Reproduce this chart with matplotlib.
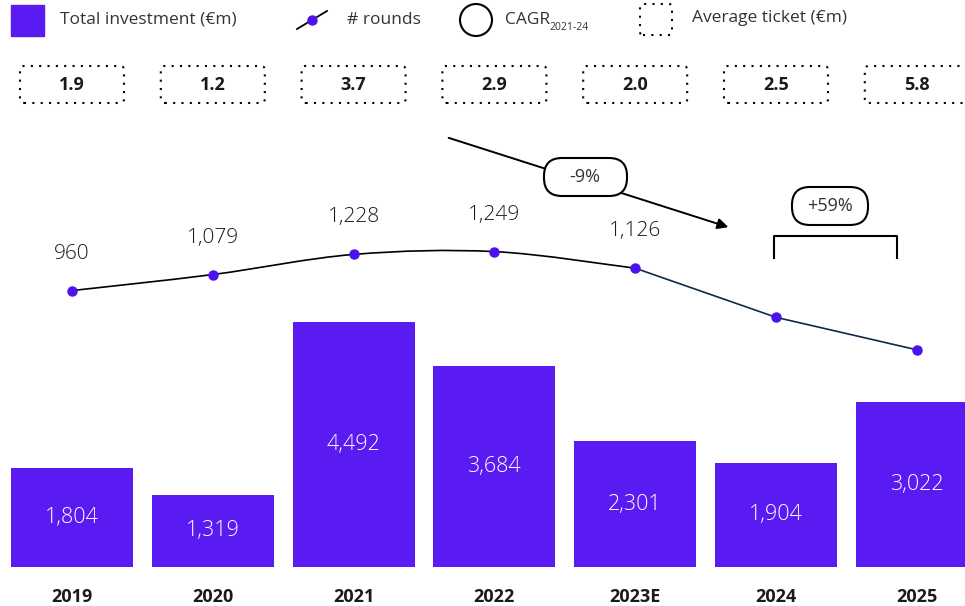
import matplotlib
matplotlib.use("Agg")
import matplotlib.pyplot as plt
from matplotlib.patches import FancyBboxPatch, Rectangle, Ellipse, FancyArrowPatch, PathPatch
from matplotlib.lines import Line2D
from matplotlib.path import Path
import matplotlib.transforms as mtrans
import numpy as np

# data
years = ["2019", "2020", "2021", "2022", "2023E", "2024", "2025"]
investment = [1804, 1319, 4492, 3684, 2301, 1904, 3022]          # Total investment (€m)
rounds = [960, 1079, 1228, 1249, 1126, 762, 521]                  # # rounds
round_labels = ["960", "1,079", "1,228", "1,249", "1,126", "", ""]
avg_ticket = [1.9, 1.2, 3.7, 2.9, 2.0, 2.5, 5.8]                  # Average ticket (€m)
cagr_label = "-9%"
growth_label = "+59%"

purple = "#5A1AF2"
dot_col = "#4B12EE"
navy = "#0E2A4A"
ink = "#1A1A1A"
plt.rcParams["font.family"] = ["Open Sans", "DejaVu Sans"]

W, H = 965, 606
fig = plt.figure(figsize=(W / 100, H / 100), dpi=100)
ax = fig.add_axes([0, 0, 1, 1])
ax.axis("off")

x = np.arange(len(years))
step = 140.8
x0 = 72
ax.set_xlim(-x0 / step, (W - x0) / step)
k = 18.3            # €m per pixel
base = H - 567      # baseline of the bars in pixels from the bottom
ax.set_ylim(-base * k, (H - base) * k)

ax.bar(x, investment, width=122 / step, color=purple, zorder=2)
for xi, v in zip(x, investment):
    ax.text(xi, v / 2, f"{v:,}", ha="center", va="center", color="white",
            fontsize=15.5, fontweight="light", zorder=3)

# year labels
ylab = mtrans.blended_transform_factory(ax.transData, ax.transAxes)
for xi, yr in zip(x, years):
    ax.text(xi, 1 - 597 / H, yr, transform=ylab, ha="center", va="center",
            fontsize=13, fontweight="bold", color=ink)

# rounds line on its own axis
ax2 = ax.twinx()
ax2.set_position([0, 0, 1, 1])
ax2.axis("off")
ax2.set_ylim(-1378, 3114)
ax2.set_xlim(ax.get_xlim())

# smooth part (2019 - 2023E) as bezier through the points
pts = np.column_stack([x[:5], rounds[:5]]).astype(float)
ext = np.vstack([pts[0], pts, pts[-1]])
verts = [tuple(pts[0])]
codes = [Path.MOVETO]
for i in range(1, len(ext) - 2):
    p0, p1, p2, p3 = ext[i - 1], ext[i], ext[i + 1], ext[i + 2]
    c1 = p1 + (p2 - p0) / 6
    c2 = p2 - (p3 - p1) / 6
    verts += [tuple(c1), tuple(c2), tuple(p2)]
    codes += [Path.CURVE4] * 3
ax2.add_patch(PathPatch(Path(verts, codes), fill=False, edgecolor="black", lw=1.2, zorder=3))
ax2.plot(x[4:], rounds[4:], color=navy, lw=1.2, zorder=3)
ax2.plot(x, rounds, "o", color=dot_col, ms=6.5, zorder=4)
for xi, v, lab in zip(x, rounds, round_labels):
    if lab:
        ax2.annotate(lab, (xi, v), xytext=(0, 27), textcoords="offset pixels",
                     ha="center", va="bottom", fontsize=15, fontweight="light", color=ink)

# pixel helpers (measured from top-left)
ident = mtrans.IdentityTransform()


def P(px, py):
    return px, H - py


# average ticket boxes
for xi, t in zip(x, avg_ticket):
    cx = ax.transData.transform((xi, 0))[0]
    box = FancyBboxPatch(P(cx - 52, 103), 104, 37, boxstyle="round,pad=0,rounding_size=4",
                         transform=ident, facecolor="none", edgecolor="black",
                         lw=1.5, linestyle=(0, (1, 3.0)))
    fig.add_artist(box)
    fig.text(cx / W, 1 - 85 / H, f"{t:.1f}", ha="center", va="center",
             fontsize=13, fontweight="bold", color=ink)

# legend
fig.add_artist(Rectangle(P(11, 36), 33, 31, transform=ident, color=purple))
fig.text(60 / W, 1 - 20 / H, "Total investment (€m)", va="center", fontsize=12.5, color="#333333")
fig.add_artist(Line2D([297, 327], [H - 29, H - 11], transform=ident, color="black", lw=1.3))
fig.add_artist(Line2D([312], [H - 20], transform=ident, marker="o", color=dot_col, ms=6.5))
fig.text(347 / W, 1 - 20 / H, "# rounds", va="center", fontsize=12.5, color="#333333")
fig.add_artist(Ellipse(P(476, 20), 32, 32, transform=ident, facecolor="none",
                       edgecolor="black", lw=1.5))
fig.text(505 / W, 1 - 20 / H, "CAGR", va="center", fontsize=12.5, color="#333333")
fig.text(549 / W, 1 - 28 / H, "2021-24", va="center", fontsize=7.5, color="#333333")
fig.add_artist(FancyBboxPatch(P(640, 35), 32, 31, boxstyle="round,pad=0,rounding_size=3",
                              transform=ident, facecolor="none", edgecolor="black",
                              lw=1.5, linestyle=(0, (1, 3.0))))
fig.text(692 / W, 1 - 18 / H, "Average ticket (€m)", va="center", fontsize=12.5, color="#333333")

# CAGR arrow with pill
fig.add_artist(FancyArrowPatch(P(446, 137), P(731, 228), transform=ident,
                               arrowstyle="-|>", mutation_scale=16, color="black", lw=1.4))
fig.add_artist(FancyBboxPatch(P(544, 196), 83, 38, boxstyle="round,pad=0,rounding_size=18",
                              transform=ident, facecolor="white", edgecolor="black", lw=1.5,
                              zorder=5))
fig.text(585 / W, 1 - 177 / H, cagr_label, ha="center", va="center", fontsize=13,
         color="#333333", zorder=6)

# growth bracket with pill
fig.add_artist(Line2D([774, 774, 897, 897], [H - 258, H - 236, H - 236, H - 258],
                      transform=ident, color="black", lw=1.5))
fig.add_artist(FancyBboxPatch(P(792, 225), 76, 38, boxstyle="round,pad=0,rounding_size=18",
                              transform=ident, facecolor="white", edgecolor="black", lw=1.5,
                              zorder=5))
fig.text(830 / W, 1 - 206 / H, growth_label, ha="center", va="center", fontsize=13,
         color="#333333", zorder=6)

fig.savefig("out.png", dpi=100)
